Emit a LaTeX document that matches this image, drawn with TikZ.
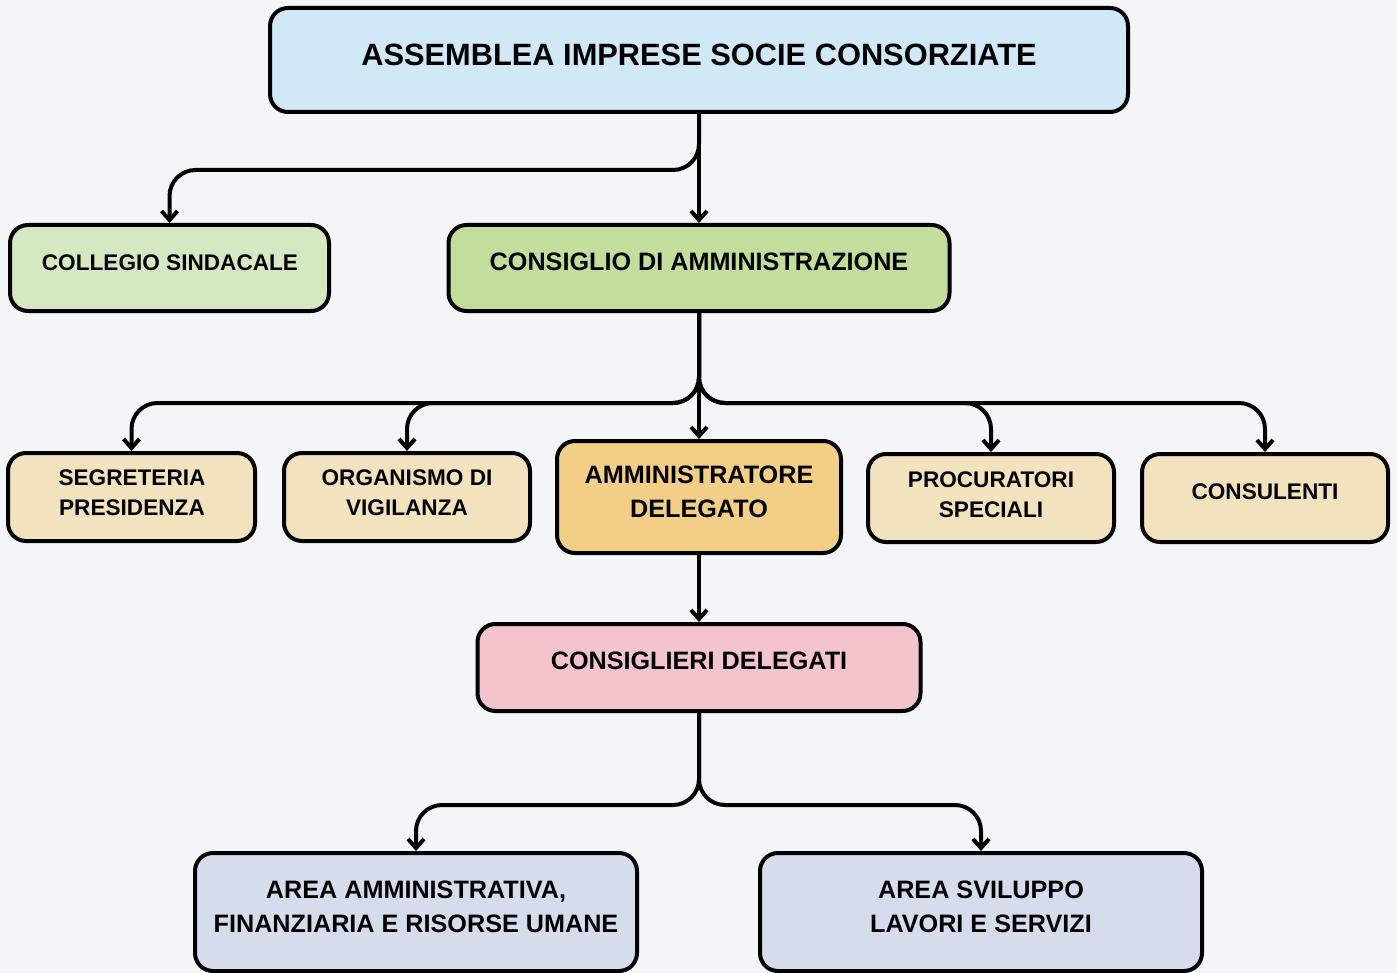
\documentclass[tikz,border=0pt]{standalone}
\usepackage{fontspec}
\setmainfont{Liberation Sans}
\usetikzlibrary{arrows.meta}
\definecolor{bgc}{HTML}{F4F5F7}
\definecolor{cTop}{HTML}{D1E9F6}
\definecolor{cColl}{HTML}{D6E8C1}
\definecolor{cCda}{HTML}{C3DE9C}
\definecolor{cBeige}{HTML}{F2E2BD}
\definecolor{cAd}{HTML}{F2CE86}
\definecolor{cPink}{HTML}{F3C4CC}
\definecolor{cBlue}{HTML}{D5DDED}
\tikzset{
  box/.style={draw=black, line width=2pt, rounded corners=9pt, inner sep=0pt},
  txt/.style={inner sep=0pt, align=center, font=\bfseries\fontsize{12.6}{17}\selectfont},
  txtsm/.style={inner sep=0pt, align=center, font=\bfseries\fontsize{11.3}{15}\selectfont},
  conn/.style={line width=2pt, rounded corners=13pt, -{Straight Barb[length=4.5pt,width=8pt]}},
}
\begin{document}
\begin{tikzpicture}[x=0.5pt,y=-0.5pt]
\fill[bgc] (0,0) rectangle (1397,973);
\useasboundingbox (0,0) rectangle (1397,973);

% boxes
\node[box, fill=cTop, minimum width=429pt, minimum height=52pt] (top) at (699,60) {};
\node[box, fill=cColl, minimum width=159.5pt, minimum height=43pt] (coll) at (169.5,268) {};
\node[box, fill=cCda, minimum width=250.5pt, minimum height=43pt] (cda) at (699,268) {};
\node[box, fill=cBeige, minimum width=123.5pt, minimum height=44pt] (seg) at (131.5,497) {};
\node[box, fill=cBeige, minimum width=123pt, minimum height=44pt] (odv) at (407,497) {};
\node[box, fill=cAd, minimum width=142pt, minimum height=56pt] (ad) at (699,497) {};
\node[box, fill=cBeige, minimum width=123pt, minimum height=44pt] (proc) at (991,498) {};
\node[box, fill=cBeige, minimum width=123pt, minimum height=44pt] (cons) at (1265,498) {};
\node[box, fill=cPink, minimum width=221.5pt, minimum height=43.5pt] (cd) at (699,667.5) {};
\node[box, fill=cBlue, minimum width=221pt, minimum height=59pt] (a1) at (416,912) {};
\node[box, fill=cBlue, minimum width=221pt, minimum height=59pt] (a2) at (981,912) {};

% texts
\node[txt, font=\bfseries\fontsize{15.4}{18}\selectfont] (topt) at (699,55) {ASSEMBLEA IMPRESE SOCIE CONSORZIATE};
\node[txtsm] (collt) at (170,263) {COLLEGIO SINDACALE};
\node[txt] (cdat) at (699,262) {CONSIGLIO DI AMMINISTRAZIONE};
\node[txtsm] (segt) at (132,493) {SEGRETERIA\\PRESIDENZA};
\node[txtsm] (odvt) at (407,493) {ORGANISMO DI\\VIGILANZA};
\node[txt] (adt) at (699,492) {AMMINISTRATORE\\DELEGATO};
\node[txtsm] (proct) at (991,494.5) {PROCURATORI\\SPECIALI};
\node[txtsm] (const) at (1265,492) {CONSULENTI};
\node[txt] (cdt) at (699,661) {CONSIGLIERI DELEGATI};
\node[txt] (a1t) at (416,907) {AREA AMMINISTRATIVA,\\FINANZIARIA E RISORSE UMANE};
\node[txt] (a2t) at (981,907) {AREA SVILUPPO\\LAVORI E SERVIZI};

% connectors
\draw[conn] (top.south) -- (cda.north);
\draw[conn] (top.south) -- (699,170) -| (coll.north);
\draw[conn] (cda.south) -- (ad.north);
\draw[conn] (cda.south) -- (699,403) -| (seg.north);
\draw[conn] (cda.south) -- (699,403) -| (odv.north);
\draw[conn] (cda.south) -- (699,403) -| (proc.north);
\draw[conn] (cda.south) -- (699,403) -| (cons.north);
\draw[conn] (ad.south) -- (cd.north);
\draw[conn] (cd.south) -- (699,805) -| (a1.north);
\draw[conn] (cd.south) -- (699,805) -| (a2.north);
\end{tikzpicture}
\end{document}
